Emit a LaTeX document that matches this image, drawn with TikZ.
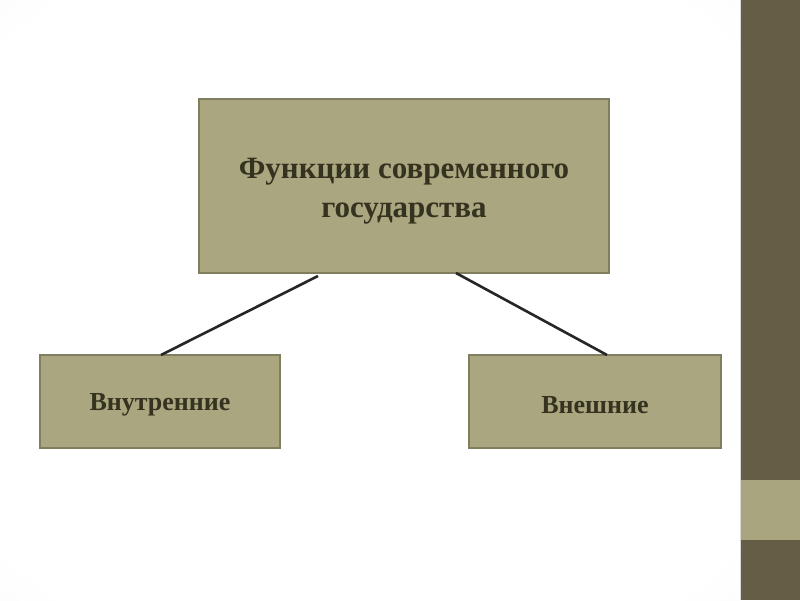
\documentclass[tikz,border=0pt]{standalone}
\usepackage{fontspec}
\setmainfont{Liberation Serif}
\definecolor{boxfill}{HTML}{A9A680}
\definecolor{boxdraw}{HTML}{807E5F}
\definecolor{bardark}{HTML}{665D46}
\definecolor{barlight}{HTML}{A9A57F}
\definecolor{txt}{HTML}{35321F}
\definecolor{bgmid}{HTML}{F4F4F4}
\definecolor{bgedge}{HTML}{D8D8D8}
\pgfdeclareradialshading{slidebg}{\pgfpoint{0bp}{0bp}}{color(0bp)=(white); color(32bp)=(white); color(50bp)=(bgmid); color(71bp)=(bgedge)}
\tikzset{
  box/.style={draw=boxdraw, fill=boxfill, line width=2pt, inner sep=0pt},
  label text/.style={font=\bfseries, text=txt, align=center},
  link/.style={draw=black!85, line width=2.6pt}
}
\begin{document}
\begin{tikzpicture}[x=1pt,y=-1pt]
\useasboundingbox (0,0) rectangle (800,600);
\shade[shading=slidebg] (0,0) rectangle (740,600);
\fill[bardark] (740,0) rectangle (800,600);
\fill[barlight] (740,480) rectangle (800,540);
\draw[white!85!black, line width=0.8pt] (740,0) -- (740,600);
\node[box, minimum width=410pt, minimum height=174pt] (top) at (404,186) {};
\node[label text, font=\fontsize{31}{39}\selectfont\bfseries] (toptext) at (404,191) {Функции современного\\государства};
\node[box, minimum width=240pt, minimum height=93pt] (left) at (160,401.5) {};
\node[label text, font=\fontsize{26}{30}\selectfont\bfseries] (lefttext) at (160,405) {Внутренние};
\node[box, minimum width=252pt, minimum height=93pt] (right) at (595,401.5) {};
\node[label text, font=\fontsize{26}{30}\selectfont\bfseries] (righttext) at (595,405) {Внешние};
\coordinate (t1) at (318,276);
\coordinate (t2) at (456,273);
\coordinate (l1) at (161,355);
\coordinate (r1) at (607,355);
\draw[link] (t1) -- (l1);
\draw[link] (t2) -- (r1);
\end{tikzpicture}
\end{document}
